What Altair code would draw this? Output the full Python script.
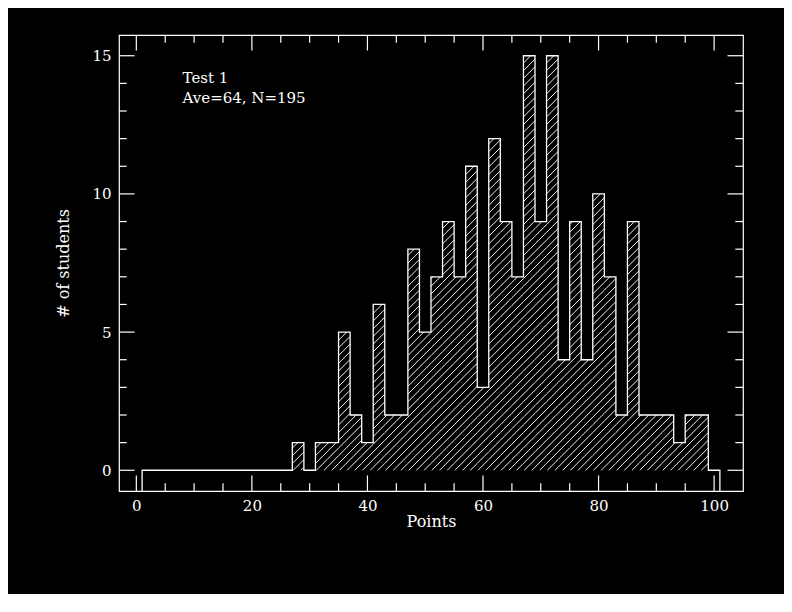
import math
import altair as alt
import pandas as pd

# ---- data ----
bin_left = list(range(1, 101, 2))          # bins of width 2: 1-3, 3-5, ..., 99-101
bin_width = 2
counts = [0] * 13 + [1, 0, 1, 1, 5, 2, 1, 6, 2, 2, 8, 5, 7, 9, 7, 11, 3, 12, 9, 7,
                     15, 9, 15, 4, 9, 4, 10, 7, 2, 9, 2, 2, 2, 1, 2, 2, 0]
x_major = [0, 20, 40, 60, 80, 100]
x_minor = [v for v in range(0, 101, 5) if v % 20 != 0]
y_major = [0, 5, 10, 15]
y_minor = [v for v in range(0, 16) if v % 5 != 0]
notes = ["Test 1", "Ave=64, N=195"]
note_x = [8, 8]
note_y = [14, 13.3]

# ---- layout ----
W, H = 624, 456
X_DOM = [-3, 105]
Y_DOM = [-0.75, 15.75]
FONT = "DejaVu Serif"
FS = 15
TFS = 16
xs = alt.Scale(domain=X_DOM, nice=False, zero=False)
ys = alt.Scale(domain=Y_DOM, nice=False, zero=False)

AX = alt.Axis(
    values=x_major, ticks=False, domain=False, grid=False,
    labelFont=FONT, labelFontSize=FS, labelColor="white", labelPadding=7,
    title="Points", titleFont=FONT, titleFontSize=TFS, titleFontWeight="normal",
    titleColor="white", titleX=W / 2, titleY=35, titleBaseline="alphabetic",
    titleAlign="center", format="d")
AY = alt.Axis(
    values=y_major, ticks=False, domain=False, grid=False,
    labelFont=FONT, labelFontSize=FS, labelColor="white", labelPadding=8,
    title="# of students", titleFont=FONT, titleFontSize=TFS, titleFontWeight="normal",
    titleColor="white", titleX=-56, titleY=H / 2, titleBaseline="middle",
    titleAlign="center", titleAngle=270, format="d")

# outline of histogram (step)
ox, oy = [bin_left[0]], [Y_DOM[0]]
for x0, h in zip(bin_left, counts):
    ox += [x0, x0 + bin_width]
    oy += [h, h]
ox.append(bin_left[-1] + bin_width)
oy.append(Y_DOM[0])
outline = pd.DataFrame({"x": ox, "y": oy, "o": list(range(len(ox)))})

# hatch segments (45 degrees in screen space), clipped to each bin
sx = W / (X_DOM[1] - X_DOM[0])
sy = H / (Y_DOM[1] - Y_DOM[0])
d = 7.7
phase = (-500.0) % d
segs = []
for x0, h in zip(bin_left, counts):
    if h <= 0:
        continue
    u0 = (x0 - X_DOM[0]) * sx
    u1 = (x0 + bin_width - X_DOM[0]) * sx
    vb = (0 - Y_DOM[0]) * sy
    vt = (h - Y_DOM[0]) * sy
    n0 = math.ceil((vb - u1 - phase) / d)
    n1 = math.floor((vt - u0 - phase) / d)
    for n in range(n0, n1 + 1):
        k = phase + n * d
        ua = max(u0, vb - k)
        ub = min(u1, vt - k)
        if ub > ua:
            segs.append({
                "x": ua / sx + X_DOM[0], "y": (ua + k) / sy + Y_DOM[0],
                "x2": ub / sx + X_DOM[0], "y2": (ub + k) / sy + Y_DOM[0],
            })
hatch_df = pd.DataFrame(segs)

line = alt.Chart(outline).mark_line(color="white", strokeWidth=1.3, interpolate="linear").encode(
    x=alt.X("x:Q", scale=xs, axis=AX),
    y=alt.Y("y:Q", scale=ys, axis=AY),
    order="o:Q",
)

hatch = alt.Chart(hatch_df).mark_rule(color="white", strokeWidth=0.95).encode(
    x=alt.X("x:Q", scale=xs, axis=AX),
    y=alt.Y("y:Q", scale=ys, axis=AY),
    x2="x2:Q", y2="y2:Q",
)


def tick_layer(vals, side, length):
    df = pd.DataFrame({"x": vals, "y": vals})
    base = alt.Chart(df).mark_rule(color="white", strokeWidth=1.2)
    if side == "bottom":
        return base.encode(x=alt.X("x:Q", scale=xs, axis=AX),
                           y=alt.value(H), y2=alt.value(H - length))
    if side == "top":
        return base.encode(x=alt.X("x:Q", scale=xs, axis=AX),
                           y=alt.value(0), y2=alt.value(length))
    if side == "left":
        return base.encode(y=alt.Y("y:Q", scale=ys, axis=AY),
                           x=alt.value(0), x2=alt.value(length))
    return base.encode(y=alt.Y("y:Q", scale=ys, axis=AY),
                       x=alt.value(W), x2=alt.value(W - length))


ticks = []
for side in ["bottom", "top"]:
    ticks.append(tick_layer(x_major, side, 15.5))
    ticks.append(tick_layer(x_minor, side, 7.7))
for side in ["left", "right"]:
    ticks.append(tick_layer(y_major, side, 15.5))
    ticks.append(tick_layer(y_minor, side, 7.7))

notes_df = pd.DataFrame({"x": note_x, "y": note_y, "t": notes})
text = alt.Chart(notes_df).mark_text(
    align="left", baseline="alphabetic", font=FONT, fontSize=FS, color="white"
).encode(
    x=alt.X("x:Q", scale=xs, axis=AX),
    y=alt.Y("y:Q", scale=ys, axis=AY),
    text="t:N",
)

chart = alt.layer(hatch, line, text, *ticks).properties(
    width=W, height=H,
    background="black",
    padding={"left": 111, "top": 27, "right": 41, "bottom": 103},
    autosize=alt.AutoSizeParams(type="none"),
).configure_view(stroke="white", strokeWidth=1.2)

chart.save("out.html", embed_options={"renderer": "svg", "actions": False})
